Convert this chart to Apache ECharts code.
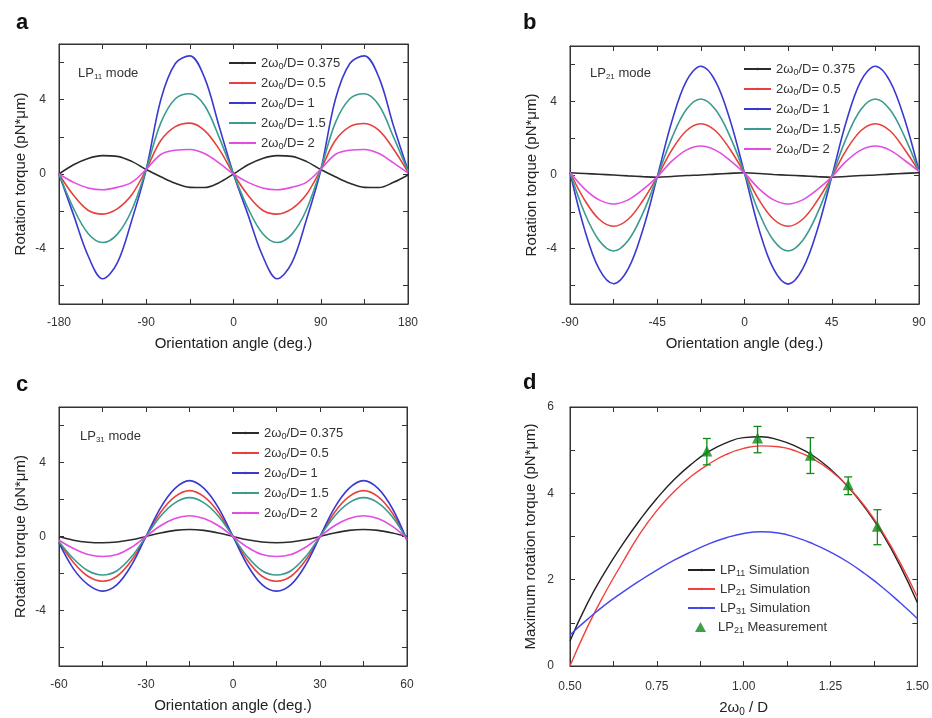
<!DOCTYPE html>
<html><head><meta charset="utf-8">
<script src="https://cdn.jsdelivr.net/npm/echarts@6/dist/echarts.min.js"></script>
<style>html,body{margin:0;padding:0;background:#fff}#c{width:932px;height:718px}</style>
</head><body><div id="c"></div>
<script>
// ---------- DATA ----------
const ratios = ['0.375', '0.5', '1', '1.5', '2'];

// Panel a: LP11 mode
const anglesA = [-180,-165,-150,-135,-120,-105,-90,-75,-60,-45,-30,-15,0,15,30,45,60,75,90,105,120,135,150,165,180];
const a_0375 = [0,0.5,0.84,0.99,0.95,0.68,0.24,-0.15,-0.5,-0.72,-0.73,-0.47,0,0.5,0.84,0.99,0.95,0.68,0.24,-0.15,-0.5,-0.72,-0.73,-0.45,-0.05];
const a_05   = [0,-1.15,-1.95,-2.16,-1.88,-1.12,0.25,1.8,2.55,2.74,2.35,1.35,0,-1.15,-1.95,-2.16,-1.88,-1.12,0.25,1.8,2.55,2.72,2.35,1.35,0.1];
const a_1    = [0,-2.2,-4.4,-5.64,-4.8,-2.5,0.25,4.0,5.95,6.36,5.2,2.6,0,-2.2,-4.4,-5.64,-4.8,-2.5,0.2,4.0,5.95,6.36,5.2,2.6,0.2];
const a_15   = [0,-1.85,-3.2,-3.69,-3.25,-1.95,0.25,2.75,4.05,4.32,3.7,2.0,0,-1.85,-3.2,-3.69,-3.25,-1.95,0.25,2.75,4.05,4.32,3.7,2.0,0.15];
const a_2    = [0,-0.45,-0.75,-0.85,-0.72,-0.45,0.25,1.05,1.28,1.32,1.1,0.6,0,-0.45,-0.75,-0.85,-0.72,-0.45,0.25,1.05,1.28,1.32,1.1,0.6,0.05];

// Panel b: LP21 mode
const anglesB = [-90,-82.5,-75,-67.5,-60,-52.5,-45,-37.5,-30,-22.5,-15,-7.5,0,7.5,15,22.5,30,37.5,45,52.5,60,67.5,75,82.5,90];
const b_0375 = [0.12,0.08,0.04,0.0,-0.05,-0.09,-0.12,-0.08,-0.03,0.0,0.05,0.09,0.12,0.08,0.03,-0.01,-0.05,-0.09,-0.12,-0.08,-0.03,0.0,0.05,0.09,0.12];
const b_05   = [0.15,-1.35,-2.4,-2.78,-2.4,-1.4,-0.1,1.35,2.4,2.78,2.4,1.4,0.1,-1.35,-2.4,-2.78,-2.4,-1.4,-0.1,1.35,2.4,2.78,2.4,1.4,0.2];
const b_1    = [0.15,-2.95,-5.1,-5.9,-5.1,-3.0,-0.1,2.9,5.1,5.9,5.1,3.0,0.1,-2.95,-5.1,-5.92,-5.1,-3.0,-0.1,2.9,5.1,5.9,5.1,3.05,0.2];
const b_15   = [0.15,-2.05,-3.55,-4.12,-3.55,-2.1,-0.1,2.0,3.55,4.12,3.55,2.1,0.1,-2.05,-3.55,-4.12,-3.55,-2.1,-0.1,2.0,3.55,4.12,3.55,2.1,0.2];
const b_2    = [0.15,-0.75,-1.35,-1.57,-1.35,-0.8,-0.1,0.75,1.35,1.57,1.35,0.8,0.1,-0.75,-1.35,-1.57,-1.35,-0.8,-0.1,0.75,1.35,1.57,1.35,0.8,0.2];

// Panel c: LP31 mode
const anglesC = [-60,-55,-50,-45,-40,-35,-30,-25,-20,-15,-10,-5,0,5,10,15,20,25,30,35,40,45,50,55,60];
const c_0375 = [0.0,-0.2,-0.31,-0.34,-0.3,-0.18,0.0,0.19,0.33,0.38,0.33,0.19,0.0,-0.18,-0.3,-0.34,-0.3,-0.18,0.0,0.19,0.33,0.38,0.33,0.19,0.0];
const c_05   = [-0.3,-1.4,-2.15,-2.42,-2.15,-1.3,0.0,1.3,2.15,2.48,2.15,1.3,0.0,-1.3,-2.15,-2.42,-2.15,-1.3,0.0,1.3,2.15,2.48,2.15,1.25,-0.2];
const c_1    = [-0.35,-1.75,-2.6,-2.95,-2.6,-1.55,0.0,1.55,2.6,3.02,2.6,1.55,0.0,-1.55,-2.6,-2.95,-2.6,-1.55,0.0,1.55,2.6,3.02,2.6,1.5,-0.2];
const c_15   = [-0.28,-1.2,-1.85,-2.08,-1.85,-1.1,0.0,1.1,1.82,2.1,1.82,1.1,0.0,-1.1,-1.85,-2.08,-1.85,-1.1,0.0,1.1,1.82,2.1,1.82,1.05,-0.18];
const c_2    = [-0.2,-0.65,-0.97,-1.08,-0.97,-0.58,0.0,0.58,0.97,1.12,0.97,0.58,0.0,-0.58,-0.97,-1.08,-0.97,-0.58,0.0,0.58,0.97,1.12,0.97,0.55,-0.1];

// Panel d: maximum torque vs 2w0/D
const ratioD = [0.5,0.55,0.6,0.65,0.7,0.75,0.8,0.85,0.9,0.95,1.0,1.05,1.1,1.15,1.2,1.25,1.3,1.35,1.4,1.45,1.5];
const d_lp11 = [0.58,1.45,2.17,2.8,3.37,3.88,4.32,4.68,4.97,5.17,5.29,5.31,5.24,5.09,4.87,4.56,4.16,3.66,3.06,2.33,1.47];
const d_lp21 = [0.0,0.9,1.68,2.38,3.05,3.6,4.04,4.4,4.68,4.9,5.04,5.1,5.08,4.98,4.8,4.53,4.16,3.69,3.1,2.4,1.6];
const d_lp31 = [0.72,1.08,1.41,1.7,1.97,2.22,2.45,2.65,2.83,2.97,3.07,3.11,3.08,2.98,2.83,2.64,2.41,2.13,1.82,1.47,1.1];
const measX    = [0.894,1.04,1.192,1.301,1.385];
const measY    = [4.98,5.28,4.88,4.2,3.24];
const measLow  = [4.66,4.94,4.46,3.97,2.81];
const measHigh = [5.27,5.55,5.29,4.38,3.62];

// ---------- STYLE ----------
const FONT = '"Liberation Sans", Arial, Helvetica, sans-serif';
const AX = '#333';
const COL = {k:'#2b2b2b', r:'#e6413d', b:'#3a3ad0', t:'#3a9b8f', m:'#e24de2'};
const COLD = {k:'#222222', r:'#f2403c', b:'#4646f0', g:'#0e8a16'};

const grids = [
  {left:59,  top:44,  width:349, height:260},
  {left:570, top:46,  width:349, height:258},
  {left:59,  top:407, width:348, height:259},
  {left:570, top:407, width:349, height:259}
];

const subRich = {
  s: {fontSize: 9, fontFamily: FONT, color: '#333', verticalAlign: 'bottom', padding: [7, 0, 0, 0]}
};

function xAxes(gi, min, max, interval, fmt, name, nameGap, margin) {
  const base = {
    type: 'value', gridIndex: gi, min: min, max: max, interval: interval,
    splitLine: {show: false},
    axisLine: {show: true, onZero: false, lineStyle: {color: AX, width: 1}},
    axisTick: {show: true, inside: true, length: 5, lineStyle: {color: AX, width: 1}}
  };
  return [
    Object.assign({}, base, {
      position: 'bottom',
      axisLabel: {show: true, margin: margin, color: '#333', fontSize: 12, fontFamily: FONT,
                  formatter: fmt, showMinLabel: true, showMaxLabel: true, hideOverlap: false},
      name: name, nameLocation: 'middle', nameGap: nameGap,
      nameTextStyle: {fontSize: 15, color: '#222', fontFamily: FONT, rich: {
        s: {fontSize: 10, fontFamily: FONT, color: '#222', verticalAlign: 'bottom', padding: [8, 0, 0, 0]}
      }}
    }),
    Object.assign({}, base, {position: 'top', axisLabel: {show: false}})
  ];
}

function yAxes(gi, min, max, ticks, labels, name, nameGap, margin) {
  const base = {
    type: 'value', gridIndex: gi, min: min, max: max,
    splitLine: {show: false},
    axisLine: {show: true, onZero: false, lineStyle: {color: AX, width: 1}},
    axisTick: {show: true, inside: true, length: 5, customValues: ticks, lineStyle: {color: AX, width: 1}}
  };
  return [
    Object.assign({}, base, {
      position: 'left',
      axisLabel: {show: true, margin: margin, color: '#333', fontSize: 12, fontFamily: FONT, customValues: labels},
      name: name, nameLocation: 'middle', nameGap: nameGap,
      nameTextStyle: {fontSize: 15, color: '#222', fontFamily: FONT}
    }),
    Object.assign({}, base, {position: 'right', axisLabel: {show: false}})
  ];
}

const xAxis = [].concat(
  xAxes(0, -180, 180, 45, v => (v % 90 === 0 ? String(v) : ''), 'Orientation angle (deg.)', 32, 13),
  xAxes(1, -90, 90, 22.5, v => (v % 45 === 0 ? String(v) : ''), 'Orientation angle (deg.)', 32, 13),
  xAxes(2, -60, 60, 15, v => (v % 30 === 0 ? String(v) : ''), 'Orientation angle (deg.)', 32, 13),
  xAxes(3, 0.5, 1.5, 0.125, v => (Math.abs(v * 4 - Math.round(v * 4)) < 1e-6 ? v.toFixed(2) : ''), '2ω{s|0} / D', 33, 15)
);
const torqueTicks = [-6, -4, -2, 0, 2, 4, 6];
const torqueLabels = [-4, 0, 4];
const yAxis = [].concat(
  yAxes(0, -7, 7, torqueTicks, torqueLabels, 'Rotation torque (pN*μm)', 31, 13),
  yAxes(1, -7, 7, torqueTicks, torqueLabels, 'Rotation torque (pN*μm)', 31, 13),
  yAxes(2, -7, 7, torqueTicks, torqueLabels, 'Rotation torque (pN*μm)', 31, 13),
  yAxes(3, 0, 6, [0, 1, 2, 3, 4, 5, 6], [0, 2, 4, 6], 'Maximum rotation torque (pN*μm)', 32, 16)
);

const series = [];
function addLine(gi, prefix, name, xs, ys, color, width, smooth) {
  series.push({
    type: 'line', name: prefix + '#' + name,
    xAxisIndex: gi * 2, yAxisIndex: gi * 2,
    data: xs.map((x, i) => [x, ys[i]]),
    smooth: smooth, symbol: 'none', showSymbol: false,
    lineStyle: {color: color, width: width}, itemStyle: {color: color},
    emphasis: {disabled: true}, z: 3
  });
}
const panelsTorque = [
  ['a', anglesA, [a_0375, a_05, a_1, a_15, a_2]],
  ['b', anglesB, [b_0375, b_05, b_1, b_15, b_2]],
  ['c', anglesC, [c_0375, c_05, c_1, c_15, c_2]]
];
const torqueColors = [COL.k, COL.r, COL.b, COL.t, COL.m];
panelsTorque.forEach(([p, xs, sets], gi) => {
  sets.forEach((ys, k) => addLine(gi, p, ratios[k], xs, ys, torqueColors[k], 1.6, 0.35));
});
addLine(3, 'd', 'LP11 Simulation', ratioD, d_lp11, COLD.k, 1.4, 0.5);
addLine(3, 'd', 'LP21 Simulation', ratioD, d_lp21, COLD.r, 1.4, 0.5);
addLine(3, 'd', 'LP31 Simulation', ratioD, d_lp31, COLD.b, 1.4, 0.5);

// error bars
series.push({
  type: 'custom', name: 'errbars', xAxisIndex: 6, yAxisIndex: 6,
  data: measX.map((x, i) => [x, measLow[i], measHigh[i]]),
  encode: {x: 0, y: [1, 2]},
  renderItem: function (params, api) {
    const x = api.value(0);
    const p1 = api.coord([x, api.value(1)]);
    const p2 = api.coord([x, api.value(2)]);
    const w = 4;
    const st = {stroke: COLD.g, lineWidth: 1.3};
    return {type: 'group', children: [
      {type: 'line', shape: {x1: p1[0], y1: p1[1], x2: p2[0], y2: p2[1]}, style: st},
      {type: 'line', shape: {x1: p1[0] - w, y1: p1[1], x2: p1[0] + w, y2: p1[1]}, style: st},
      {type: 'line', shape: {x1: p2[0] - w, y1: p2[1], x2: p2[0] + w, y2: p2[1]}, style: st}
    ]};
  },
  z: 4
});
series.push({
  type: 'scatter', name: 'd#LP21 Measurement', xAxisIndex: 6, yAxisIndex: 6,
  data: measX.map((x, i) => [x, measY[i]]),
  symbol: 'triangle', symbolSize: 11, itemStyle: {color: COLD.g}, z: 5
});

function torqueLegendFmt(n) { return '2ω{s|0}/D= ' + n.split('#')[1]; }
function dLegendFmt(n) {
  const t = n.split('#')[1];
  const m = t.match(/^LP(\d\d) (.*)$/);
  return 'LP{s|' + m[1] + '} ' + m[2];
}
function legendFor(prefix, left, top, gap, names, fmt, iw, ih) {
  return {
    orient: 'vertical', left: left, top: top, itemGap: gap, padding: 0,
    itemWidth: iw, itemHeight: ih, selectedMode: false,
    data: names.map(n => prefix + '#' + n),
    formatter: fmt,
    textStyle: {fontSize: 13, color: '#333', fontFamily: FONT, lineHeight: 16, rich: subRich}
  };
}
const dLegendTri = legendFor('d', 695, 619, 3, ['LP21 Measurement'], dLegendFmt, 11, 10);
dLegendTri.data = [{name: 'd#LP21 Measurement', icon: 'triangle'}];
dLegendTri.textStyle.padding = [0, 0, 0, 7];
const legend = [
  legendFor('a', 228, 55, 4, ratios, torqueLegendFmt, 27, 3),
  legendFor('b', 743, 61, 4, ratios, torqueLegendFmt, 27, 3),
  legendFor('c', 231, 425, 4, ratios, torqueLegendFmt, 27, 3),
  legendFor('d', 687, 562, 3, ['LP11 Simulation', 'LP21 Simulation', 'LP31 Simulation'], dLegendFmt, 27, 3),
  dLegendTri
];

const richLabel = {s: {fontSize: 8, fontFamily: FONT, fill: '#333', verticalAlign: 'bottom', padding: [6, 0, 0, 0]}};
function modeText(x, y, txt) {
  return {type: 'text', left: x, top: y, style: {text: txt, fontSize: 13, fontFamily: FONT, fill: '#333', rich: richLabel}};
}
function letter(x, y, t) {
  return {type: 'text', left: x, top: y, style: {text: t, fontSize: 22, fontWeight: 'bold', fontFamily: FONT, fill: '#111'}};
}

const option = {
  animation: false,
  backgroundColor: '#fff',
  grid: grids.map(g => Object.assign({show: true, borderColor: AX, borderWidth: 1, backgroundColor: 'transparent'}, g)),
  xAxis: xAxis,
  yAxis: yAxis,
  legend: legend,
  series: series,
  graphic: [
    letter(16, 12, 'a'), letter(523, 12, 'b'), letter(16, 374, 'c'), letter(523, 372, 'd'),
    modeText(78, 67, 'LP{s|11} mode'),
    modeText(590, 67, 'LP{s|21} mode'),
    modeText(80, 430, 'LP{s|31} mode')
  ]
};
const chart = echarts.init(document.getElementById('c'));
chart.setOption(option);
</script>
</body></html>
